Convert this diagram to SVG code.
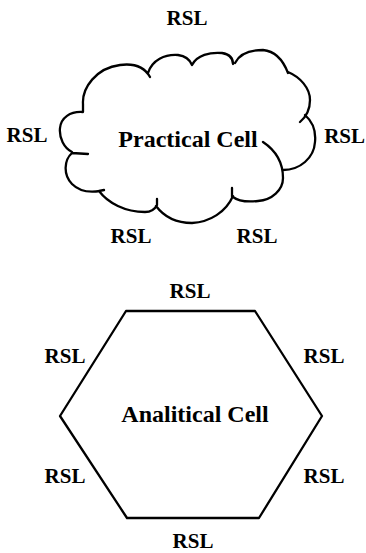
<svg xmlns="http://www.w3.org/2000/svg" width="366" height="553" viewBox="0 0 366 553">
  <style>
    .outline { fill: none; stroke: #000; stroke-width: 2.3; stroke-linecap: round; stroke-linejoin: round; }
    .rsl { font-family: "Liberation Serif", "Times New Roman", serif; font-size: 21px; font-weight: bold; fill: #000; text-anchor: middle; }
    .rsl.end { text-anchor: end; }
    .title { font-family: "Liberation Serif", "Times New Roman", serif; font-size: 24px; font-weight: bold; fill: #000; text-anchor: middle; }
  </style>
  <rect width="366" height="553" fill="#fff"/>

  <!-- Practical cell: hand-drawn cloud, lobes drawn as separate strokes with small inner ticks -->
  <g id="practical-cell">
    <path class="outline" d="
      M83,112 L83,104 C82,88 96,68 120,65 C135,63 145,68 150,77
      M148,73 C152,60 165,54 178,55 C186,56 190,60 192,65
      M192,65 C197,55 210,52 222,53 C229,54 233,58 233,64
      M235,63 C240,53 250,50 263,50 C275,51 283,60 288,73
      M288,72 C300,77 310,88 310,100 C310,108 307,116 300,122
      M305,115 C313,122 316,132 315,142 C314,158 300,170 283,170
      M263,142 C275,150 283,162 283,178 C283,190 272,200 258,201 C248,202 238,201 233,197
      M232,197 L232,188
      M233,196 C226,212 210,222 192,223 C178,223 165,218 156,206
      M157,205 L157,199
      M157,205 C155,209 151,212 145,212 C125,212 108,203 99,191 L104,190
      M100,191 C88,193 78,190 72,184 C63,175 64,160 72,153 L88,154
      M72,152 C64,148 59,138 60,128 C61,118 70,111 83,112"/>
    <text class="title" x="188" y="147">Practical Cell</text>
  </g>

  <!-- Analitical cell: hexagon -->
  <g id="analitical-cell">
    <polygon class="outline" points="126,311 255,311 322,416 259,518 127,518 60,416"/>
    <text class="title" x="195" y="422">Analitical Cell</text>
  </g>

  <!-- RSL labels around the cells -->
  <g id="labels">
    <text class="rsl" x="187" y="25">RSL</text>
    <text class="rsl" x="27" y="142">RSL</text>
    <text class="rsl end" x="365" y="143">RSL</text>
    <text class="rsl" x="131" y="243">RSL</text>
    <text class="rsl" x="257" y="243">RSL</text>
    <text class="rsl" x="190" y="298">RSL</text>
    <text class="rsl" x="65" y="363">RSL</text>
    <text class="rsl" x="324" y="363">RSL</text>
    <text class="rsl" x="65" y="483">RSL</text>
    <text class="rsl" x="324" y="483">RSL</text>
    <text class="rsl" x="193" y="548">RSL</text>
  </g>
</svg>
